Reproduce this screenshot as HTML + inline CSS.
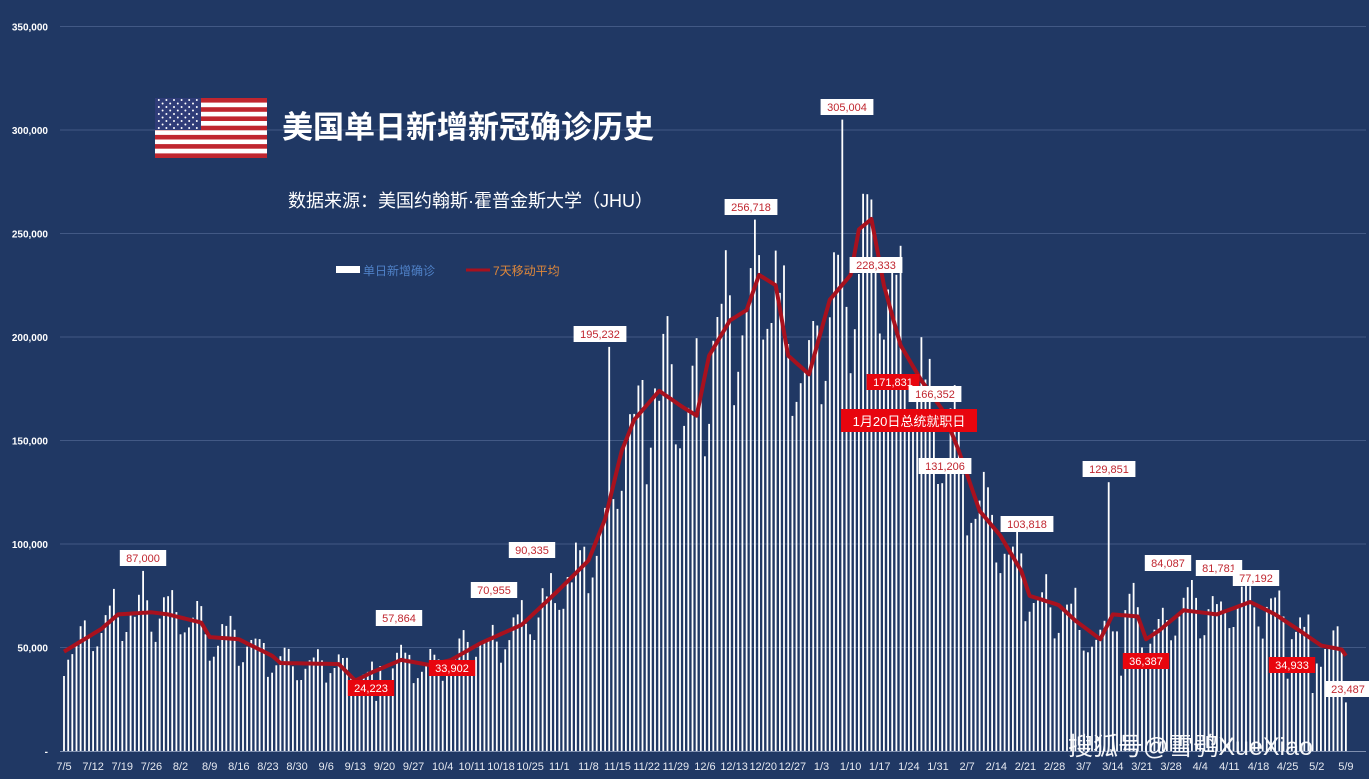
<!DOCTYPE html>
<html><head><meta charset="utf-8"><style>
html,body{margin:0;padding:0;background:#203864;}
svg{display:block}
text{font-family:"Liberation Sans","Noto Sans CJK SC",sans-serif}
</style></head><body>
<svg id="s" width="1369" height="779" xmlns="http://www.w3.org/2000/svg">
<rect width="1369" height="779" fill="#203864"/>
<g id="grid"></g>
<g id="bars" fill="#ffffff"></g>
<polyline id="ma" fill="none" stroke="#a8111e" stroke-width="4" stroke-linejoin="round"/>
<g id="xl" fill="#e6e9f0" font-size="11"></g>
<g id="yl" fill="#ffffff" font-size="10" font-weight="bold" text-anchor="end"></g>
<g transform="translate(155,98)">
<rect width="112" height="60" fill="#fff"/>
<g fill="#c0262f"><rect y="0" width="112" height="4.6"/><rect y="9.2" width="112" height="4.6"/><rect y="18.4" width="112" height="4.6"/><rect y="27.7" width="112" height="4.6"/><rect y="36.9" width="112" height="4.6"/><rect y="46.1" width="112" height="4.6"/><rect y="55.4" width="112" height="4.6"/></g>
<rect width="46" height="32" fill="#2f3c78"/>
<g fill="#fff" id="stars"></g>
</g>
<text x="282" y="138" font-size="31" font-weight="bold" fill="#fff">美国单日新增新冠确诊历史</text>
<text x="288" y="207" font-size="18" fill="#fff">数据来源：美国约翰斯·霍普金斯大学（JHU）</text>
<rect x="336" y="266" width="24" height="7" fill="#fff"/>
<text x="363" y="275" font-size="12" fill="#4f81c7">单日新增确诊</text>
<line x1="466" y1="270" x2="490" y2="270" stroke="#a8111e" stroke-width="3"/>
<text x="493" y="275" font-size="12" fill="#e0883a">7天移动平均</text>
<g id="lbl" font-size="11"></g>
<rect x="841" y="409" width="136" height="23" fill="#e8050e"/>
<text x="909" y="426" font-size="13" fill="#fff" text-anchor="middle">1月20日总统就职日</text>
<text x="1068" y="755" font-size="25" fill="#fff" opacity="0.95">搜狐号@雪鸮XueXiao</text>
</svg>
<script>
var NS="http://www.w3.org/2000/svg";
function el(p,t,a,txt){var e=document.createElementNS(NS,t);for(var k in a)e.setAttribute(k,a[k]);if(txt!=null)e.textContent=txt;document.getElementById(p).appendChild(e);return e;}
var y0=751,ppv=103.5/50000;
function Y(v){return y0-v*ppv;}
var x0=64,dx=4.162;
function X(d){return x0+d*dx;}
for(var i=0;i<=7;i++){var y=Y(i*50000);
 if(i>0)el("grid","line",{x1:60,x2:1366,y1:y,y2:y,stroke:"#4e6590","stroke-width":0.8});
 el("yl","text",{x:48,y:y+4},i==0?"-":(i*50000).toLocaleString("en-US"));}
el("grid","line",{x1:60,x2:1366,y1:751.5,y2:751.5,stroke:"#8090b0","stroke-width":1});
for(var r=0;r<9;r++){var n=r%2?5:6;for(var c=0;c<n;c++){el("stars","circle",{cx:(r%2?7.6:3.8)+c*7.6,cy:2+r*3.5,r:1});}}
var kp=[[0,48],[9,59],[13,66],[21,67],[25,66],[33,62],[35,55],[42,54],[50,46],[52,42.5],[66,42],[70,34],[74,38],[81,44],[88,41.5],[93,44],[100,52],[110,61],[119,78],[126,92],[130,112],[134,145],[137,160],[143,174],[148,167],[152,162],[155,191],[160,208],[164,213],[167,230],[171,225],[174,191],[179,182],[184,218],[189,230],[191,252],[194,257],[197,225],[201,196],[206,179],[211,165],[215,145],[220,116],[225,104],[230,87],[232,75],[239,70.5],[243,63],[249,54],[252,66],[258,65],[260,54],[263,58],[269,68],[277,66],[285,72],[291,66],[297,58],[302,51],[307,49],[309,43]];
function ma(d){for(var i=0;i<kp.length-1;i++){if(d>=kp[i][0]&&d<=kp[i+1][0]){var t=(d-kp[i][0])/(kp[i+1][0]-kp[i][0]);return (kp[i][1]+t*(kp[i+1][1]-kp[i][1]))*1000;}}return kp[kp.length-1][1]*1000;}
var seed=7;function rnd(){seed=(seed*16807)%2147483647;return seed/2147483647;}
var wf=[0.82,0.84,0.96,1.05,1.1,1.16,1.02];
var ov={19:87000,131:195232,166:256718,187:305004,251:129851,308:23487,75:24223,91:33902,254:36387,294:34933,300:28000};
var pts=[];
for(var d=0;d<309;d++){
 var m=ma(d),v=m*wf[d%7]*(0.92+rnd()*0.16);
 if(v>275000)v=275000-rnd()*20000;
 if(ov[d])v=ov[d];
 var x=X(d);
 el("bars","rect",{x:(x-0.9).toFixed(1),y:Y(v).toFixed(1),width:1.8,height:(v*ppv).toFixed(1)});
 pts.push(x.toFixed(1)+","+Y(m).toFixed(1));
 if(d%7==0)el("xl","text",{x:x,y:770,"text-anchor":"middle"},["7/5","7/12","7/19","7/26","8/2","8/9","8/16","8/23","8/30","9/6","9/13","9/20","9/27","10/4","10/11","10/18","10/25","11/1","11/8","11/15","11/22","11/29","12/6","12/13","12/20","12/27","1/3","1/10","1/17","1/24","1/31","2/7","2/14","2/21","2/28","3/7","3/14","3/21","3/28","4/4","4/11","4/18","4/25","5/2","5/9"][d/7]);
}
document.getElementById("ma").setAttribute("points",pts.join(" "));
var L=[[143,558,"87,000",0],[399,618,"57,864",0],[371,688,"24,223",1],[452,668,"33,902",1],[494,590,"70,955",0],[532,550,"90,335",0],[600,334,"195,232",0],[751,207,"256,718",0],[847,107,"305,004",0],[876,265,"228,333",0],[893,382,"171,831",1],[935,394,"166,352",0],[945,466,"131,206",0],[1027,524,"103,818",0],[1109,469,"129,851",0],[1168,563,"84,087",0],[1146,661,"36,387",1],[1219,568,"81,781",0],[1256,578,"77,192",0],[1292,665,"34,933",1],[1348,689,"23,487",0]];
L.forEach(function(l){var w=l[2].length*6.4+8;
 el("lbl","rect",{x:l[0]-w/2,y:l[1]-8,width:w,height:16,fill:l[3]?"#e8050e":"#fff"});
 el("lbl","text",{x:l[0],y:l[1]+4,"text-anchor":"middle",fill:l[3]?"#fff":"#c0262f"},l[2]);});
</script>
</body></html>
